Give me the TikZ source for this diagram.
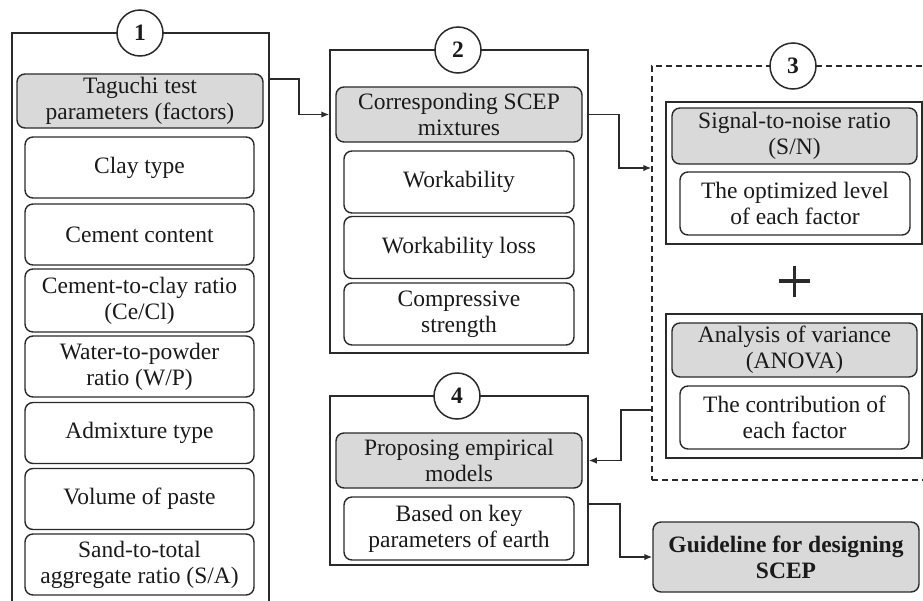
\documentclass[tikz,border=0pt]{standalone}
\usepackage{fontspec}
\setmainfont{Liberation Serif}
\usetikzlibrary{arrows.meta,calc}
\definecolor{ln}{HTML}{2A2A2A}
\definecolor{gfill}{HTML}{D9D9D9}
\definecolor{txt}{HTML}{1A1A1A}
\begin{document}
\begin{tikzpicture}[x=1pt,y=-1pt,
  font=\fontsize{23.5pt}{26pt}\selectfont, text=txt,
  frame/.style={draw=ln, line width=1.5pt, rectangle, inner sep=0pt},
  dframe/.style={frame, line width=1.4pt, dash pattern=on 6pt off 4pt},
  num/.style={circle, draw=ln, line width=1.5pt, fill=white, minimum size=46pt, inner sep=0pt, font=\fontsize{23.5pt}{26pt}\selectfont\bfseries},
  gbox/.style={draw=ln, line width=1.4pt, fill=gfill, rounded corners=8pt, align=center, inner sep=0pt},
  wbox/.style={draw=ln, line width=1.4pt, fill=white, rounded corners=8pt, align=center, inner sep=0pt},
  lw/.style={wbox, minimum width=229pt, minimum height=61pt},
  mw/.style={wbox, minimum width=230pt, minimum height=62pt},
  arr/.style={draw=ln, line width=1.5pt, -{Latex[length=8pt,width=6.5pt]}}
]
\useasboundingbox (0,0) rectangle (923,600);
\clip (0,0) rectangle (923,600);

% frames
\node[frame, minimum width=257pt, minimum height=587pt] (f1) at (140.5,326.5) {};
\node[frame, minimum width=258pt, minimum height=303pt] (f2) at (459,201.5) {};
\node[dframe, minimum width=288pt, minimum height=414pt] (f3) at (796,273) {};
\node[frame, minimum width=258pt, minimum height=169pt] (f4) at (459,480.5) {};

% number circles
\node[num] (c1) at (140,33) {1};
\node[num] (c2) at (458,50) {2};
\node[num] (c3) at (793,66) {3};
\node[num] (c4) at (457,396) {4};

% block 1
\node[gbox, minimum width=246pt, minimum height=54pt] (t1) at (140,101) {Taguchi test\\parameters (factors)};
\node[lw] (p1) at (139.5,167.5) {Clay type};
\node[lw] (p2) at (139.5,234.5) {Cement content};
\node[lw, minimum height=63pt] (p3) at (139.5,300.5) {Cement-to-clay ratio\\(Ce/Cl)};
\node[lw] (p4) at (139.5,366.5) {Water-to-powder\\ratio (W/P)};
\node[lw] (p5) at (139.5,433) {Admixture type};
\node[lw] (p6) at (139.5,499) {Volume of paste};
\node[lw] (p7) at (139.5,564.5) {Sand-to-total\\aggregate ratio (S/A)};

% block 2
\node[gbox, minimum width=246pt, minimum height=55pt] (g2) at (459,114.5) {Corresponding SCEP\\mixtures};
\node[mw] (r1) at (459,182) {Workability};
\node[mw] (r2) at (459,247.5) {Workability loss};
\node[mw] (r3) at (459,314) {Compressive\\strength};

% block 3
\node[frame, minimum width=256pt, minimum height=142pt] (i3a) at (794,173) {};
\node[gbox, minimum width=245pt, minimum height=56pt] (g3a) at (794.5,136) {Signal-to-noise ratio\\(S/N)};
\node[wbox, minimum width=230pt, minimum height=63pt] (w3a) at (795,203.5) {The optimized level\\of each factor};
\coordinate (plus) at (794.5,281);
\draw[ln, line width=3.2pt] ($(plus)+(-15.5,0)$) -- ($(plus)+(15.5,0)$);
\draw[ln, line width=3.2pt] ($(plus)+(0,-15.5)$) -- ($(plus)+(0,15.5)$);
\node[frame, minimum width=256pt, minimum height=144pt] (i3b) at (794,386) {};
\node[gbox, minimum width=245pt, minimum height=54pt] (g3b) at (794.5,350) {Analysis of variance\\(ANOVA)};
\node[wbox, minimum width=229pt, minimum height=63pt] (w3b) at (794.5,417.5) {The contribution of\\each factor};

% block 4
\node[gbox, minimum width=246pt, minimum height=55pt] (g4) at (459,460.5) {Proposing empirical\\models};
\node[wbox, minimum width=230pt, minimum height=63pt] (w4) at (459,528.5) {Based on key\\parameters of earth};

% guideline
\node[gbox, minimum width=266pt, minimum height=70pt, font=\fontsize{23.5pt}{26pt}\selectfont\bfseries] (guide) at (786,557) {Guideline for designing\\SCEP};

% connectors
\coordinate (j1) at (299,79);
\draw[arr] (j1 -| f1.east) -- (j1) |- (f2.west |- g2.west);
\coordinate (j2) at (619,168);
\draw[arr] (f2.east |- g2.east) -| (j2) -- (j2 -| f3.west);
\coordinate (j3) at (621,410);
\draw[arr] (j3 -| f3.west) -- (j3) |- (f4.east |- g4.east);
\coordinate (j4) at (620,504);
\draw[arr] (j4 -| f4.east) -- (j4) |- (guide.west);
\end{tikzpicture}
\end{document}
